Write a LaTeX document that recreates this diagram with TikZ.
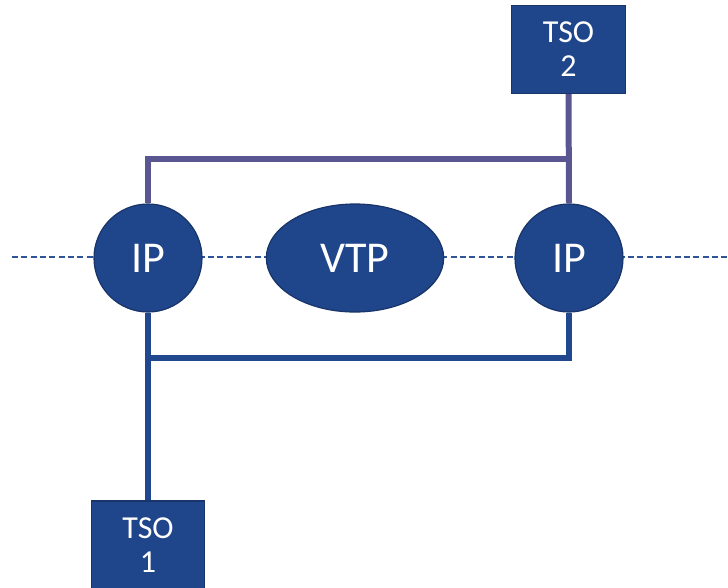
\documentclass[tikz,border=0pt]{standalone}
\usepackage{fontspec}
\setmainfont{Carlito}
\usepackage{tikz}
\usetikzlibrary{shapes,positioning,calc}
\definecolor{ipblue}{RGB}{31,69,139}
\definecolor{ipedge}{RGB}{24,52,104}
\definecolor{linkblue}{RGB}{33,72,143}
\definecolor{linkpurple}{RGB}{89,86,146}
\definecolor{dashblue}{RGB}{47,85,151}

\begin{document}
\begin{tikzpicture}[x=0.75pt,y=-0.75pt,
    ipnode/.style={circle, fill=ipblue, draw=ipedge, line width=0.9pt, minimum size=81pt, inner sep=0pt, text=white, font=\fontsize{33}{36}\selectfont},
    vtpnode/.style={ellipse, fill=ipblue, draw=ipedge, line width=0.9pt, minimum width=133pt, minimum height=81pt, inner sep=0pt, text=white, font=\fontsize{33}{36}\selectfont},
    tsonode/.style={rectangle, fill=ipblue, draw=ipedge, line width=0.8pt, minimum width=85pt, minimum height=66pt, inner sep=0pt, align=center, text=white, font=\fontsize{24}{25.5}\selectfont},
    axisdash/.style={dashblue, line width=0.9pt, dash pattern=on 4.5pt off 2.5pt},
    linkA/.style={linkpurple, line width=4.5pt},
    linkB/.style={linkblue, line width=4.5pt}]
    \useasboundingbox (0,0) rectangle (728,587);

    % Dashed axis
    \coordinate (lend) at (12,257);
    \coordinate (rend) at (728,257);
    \draw[axisdash] (lend) -- (rend);

    % Links
    \coordinate (topbar) at (569,158.5);
    \coordinate (botbar) at (569,358);

    % Nodes
    \node[ipnode] (ipL) at (148,258) {IP};
    \node[vtpnode] (vtp) at (355,258) {VTP};
    \node[ipnode] (ipR) at (569,258) {IP};
    \node[tsonode] (tso2) at (568.5,49.5) {TSO\\2};
    \node[tsonode] (tso1) at (148,545) {TSO\\1};

    % Upper link (TSO 2)
    \draw[linkA] (tso2.south) -- (ipR.north);
    \draw[linkA] (ipL.north) |- (topbar);

    % Lower link (TSO 1)
    \draw[linkB] (ipL.south) -- (tso1.north);
    \draw[linkB] (ipR.south) -- (botbar) -- (ipL.south |- botbar);
\end{tikzpicture}
\end{document}
